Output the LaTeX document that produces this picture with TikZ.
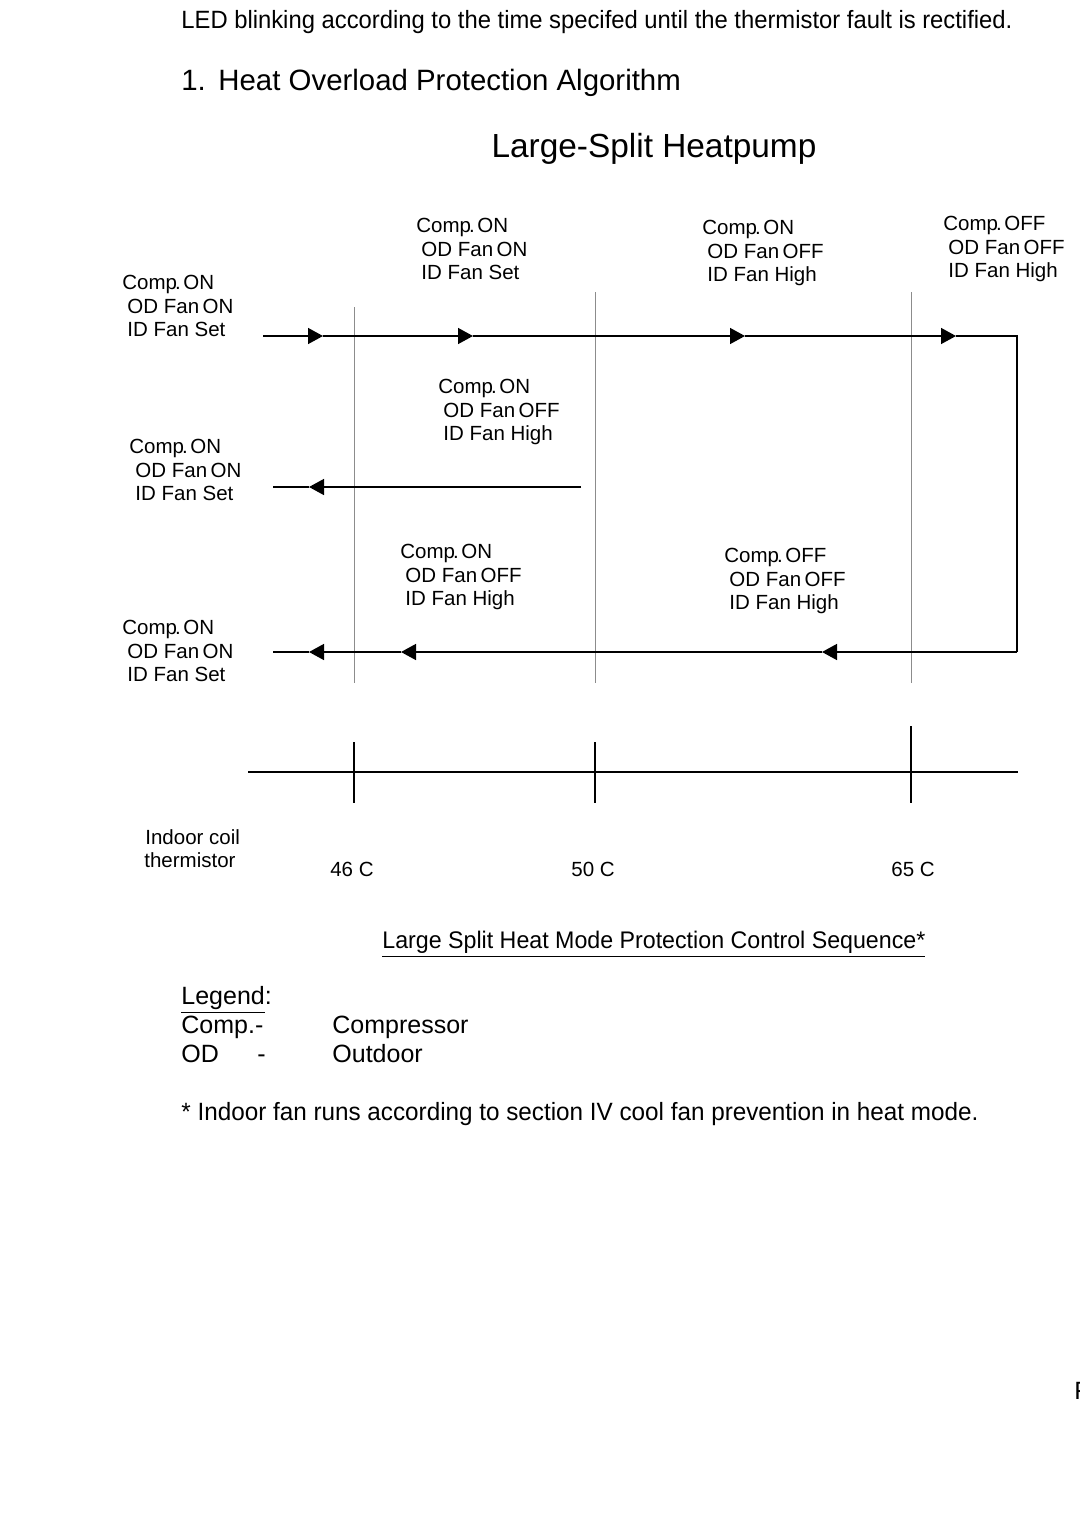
\documentclass[tikz,border=0pt]{standalone}
\usepackage{fontspec}
\setmainfont{Liberation Sans}
\usetikzlibrary{arrows.meta}
\newcommand\cmp{Comp\kern-1pt.\hspace{1.3pt}}
\begin{document}
\begin{tikzpicture}[x=0.5pt,y=-0.5pt,
  lbl/.style={anchor=north west, inner sep=0pt, align=left, font=\fontsize{10.25}{11.75}\selectfont},
  tmp/.style={inner sep=0pt, font=\fontsize{10.25}{12}\selectfont},
  body/.style={anchor=west, inner sep=0pt, text height=9pt, text depth=2.5pt, font=\fontsize{12.5}{15}\selectfont},
  flow/.style={line width=0.75pt, black},
  arr/.style={flow, -{Triangle[length=7.5pt,width=8pt]}},
  guide/.style={line width=0.5pt, black!45},
  axis/.style={line width=0.75pt, black}]
\useasboundingbox (0,0) rectangle (1080,1526);

% header texts
\node[body] (led) at (181,22) {\resizebox{415.5pt}{\height}{LED blinking according to the time specifed until the thermistor fault is rectified.}};
\node[body, text height=10.5pt, text depth=3pt, font=\fontsize{14.7}{17}\selectfont] (sec) at (181,83) {1.\hspace{6.25pt}Heat Overload Protection Algorithm};
\node[inner sep=0pt, font=\fontsize{16.7}{19}\selectfont] (title) at (654,149) {Large-Split Heatpump};

% state labels
\node[lbl] (lA) at (122,275) {\cmp ON\\\hspace*{2.5pt}OD Fan\,ON\\\hspace*{2.5pt}ID Fan Set};
\node[lbl] (lB) at (416,218) {\cmp ON\\\hspace*{2.5pt}OD Fan\,ON\\\hspace*{2.5pt}ID Fan Set};
\node[lbl] (lC) at (702,220) {\cmp ON\\\hspace*{2.5pt}OD Fan\,OFF\\\hspace*{2.5pt}ID Fan High};
\node[lbl] (lD) at (943,216) {\cmp OFF\\\hspace*{2.5pt}OD Fan\,OFF\\\hspace*{2.5pt}ID Fan High};
\node[lbl] (lE) at (438,379) {\cmp ON\\\hspace*{2.5pt}OD Fan\,OFF\\\hspace*{2.5pt}ID Fan High};
\node[lbl] (lF) at (129,439) {\cmp ON\\\hspace*{3pt}OD Fan\,ON\\\hspace*{3pt}ID Fan Set};
\node[lbl] (lG) at (400,544) {\cmp ON\\\hspace*{2.5pt}OD Fan\,OFF\\\hspace*{2.5pt}ID Fan High};
\node[lbl] (lH) at (724,548) {\cmp OFF\\\hspace*{2.5pt}OD Fan\,OFF\\\hspace*{2.5pt}ID Fan High};
\node[lbl] (lI) at (122,620) {\cmp ON\\\hspace*{2.5pt}OD Fan\,ON\\\hspace*{2.5pt}ID Fan Set};

% guide lines
\coordinate (g1t) at (354,307); \coordinate (g1b) at (354,683);
\coordinate (g2t) at (595,292); \coordinate (g2b) at (595,683);
\coordinate (g3t) at (911,292); \coordinate (g3b) at (911,683);
\draw[guide] (g1t) -- (g1b);
\draw[guide] (g2t) -- (g2b);
\draw[guide] (g3t) -- (g3b);

% top flow
\coordinate (a0) at (263,336);
\coordinate (a1) at (323,336);
\coordinate (a2) at (473,336);
\coordinate (a3) at (745,336);
\coordinate (a4) at (956,336);
\coordinate (c1) at (1017,336);
\coordinate (c2) at (1017,652);
\coordinate (b3) at (822,652);
\coordinate (b2) at (401,652);
\coordinate (b1) at (309,652);
\coordinate (b0) at (273,652);
\draw[arr] (a0) -- (a1);
\draw[arr] (a1) -- (a2);
\draw[arr] (a2) -- (a3);
\draw[arr] (a3) -- (a4);
\draw[flow] (a4) -- (c1) -- (c2);
\draw[arr] (c2) -- (b3);
\draw[arr] (b3) -- (b2);
\draw[arr] (b2) -- (b1);
\draw[flow] (b1) -- (b0);

% middle flow
\coordinate (m0) at (581,487);
\coordinate (m1) at (309,487);
\coordinate (m2) at (273,487);
\draw[arr] (m0) -- (m1);
\draw[flow] (m1) -- (m2);

% temperature axis
\coordinate (x0) at (248,772); \coordinate (x1) at (1018,772);
\draw[axis] (x0) -- (x1);
\coordinate (k1t) at (354,742); \coordinate (k1b) at (354,803);
\coordinate (k2t) at (595,742); \coordinate (k2b) at (595,803);
\coordinate (k3t) at (911,726); \coordinate (k3b) at (911,803);
\draw[axis] (k1t) -- (k1b);
\draw[axis] (k2t) -- (k2b);
\draw[axis] (k3t) -- (k3b);

\node[lbl] (coil) at (144,829) {\hspace*{0.5pt}Indoor coil\\thermistor};
\node[tmp] (t46) at (352,869) {46 C};
\node[tmp] (t50) at (593,869) {50 C};
\node[tmp] (t65) at (913,869) {65 C};

% caption and legend
\node[body, font=\fontsize{12}{14}\selectfont] (cap) at (382,942) {\resizebox{271.5pt}{\height}{\underline{Large Split Heat Mode Protection Control Sequence*}}};
\node[body] (leg) at (181,998) {\underline{Legend}:};
\node[body] (k1) at (181,1027) {Comp.-};
\node[body] (v1) at (332,1027) {Compressor};
\node[body] (k2) at (181,1056) {OD};
\node[body] (d2) at (257,1056) {-};
\node[body] (v2) at (332,1056) {Outdoor};
\node[body] (foot) at (181,1114) {\resizebox{398.5pt}{\height}{* Indoor fan runs according to section IV cool fan prevention in heat mode.}};
\node[body] (pg) at (1074,1393) {F};
\end{tikzpicture}
\end{document}
